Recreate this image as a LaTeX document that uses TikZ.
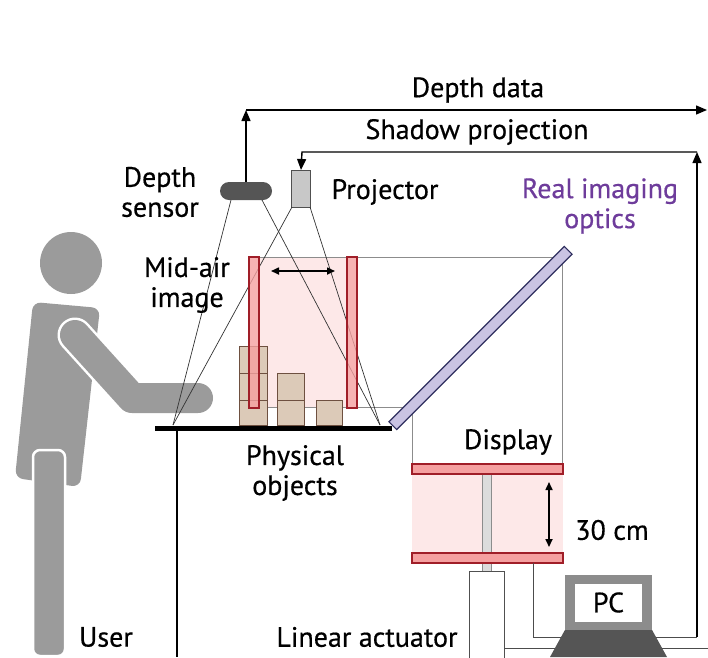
\documentclass[tikz,border=0pt]{standalone}
\usepackage{fontspec}
\setmainfont{PT Sans}[BoldFont={PT Sans}, BoldFeatures={FakeBold=0.5}]
\usetikzlibrary{arrows.meta}
\definecolor{persongray}{RGB}{155,155,155}
\definecolor{sensorgray}{RGB}{85,85,85}
\definecolor{projgray}{RGB}{200,200,200}
\definecolor{edgegray}{RGB}{80,80,80}
\definecolor{platefill}{RGB}{245,160,160}
\definecolor{plateedge}{RGB}{160,30,40}
\definecolor{volpink}{RGB}{253,232,232}
\definecolor{boxfill}{RGB}{220,202,184}
\definecolor{boxedge}{RGB}{110,80,64}
\definecolor{opticsfill}{RGB}{201,195,227}
\definecolor{opticsedge}{RGB}{46,46,94}
\definecolor{opticstext}{RGB}{110,60,155}
\definecolor{guidegray}{RGB}{140,140,140}
\definecolor{pcgray}{RGB}{140,140,140}
\definecolor{pcdark}{RGB}{85,85,85}
\definecolor{rodfill}{RGB}{220,220,220}
\begin{document}
\begin{tikzpicture}[x=1pt,y=-1pt,
  lbl/.style={font=\fontsize{28}{30}\selectfont\bfseries, align=center, inner sep=0pt},
  signal/.style={line width=1.4, draw=black, -{Triangle[length=11pt,width=9pt]}},
  ray/.style={line width=0.7, draw=black!80},
  guide/.style={line width=0.8, draw=guidegray},
  plate/.style={fill=platefill, fill opacity=0.8, draw=plateedge, line width=1.2},
  obj/.style={fill=boxfill, draw=boxedge, line width=1},
  span/.style={line width=1.6, {Triangle[length=8pt,width=7pt]}-{Triangle[length=8pt,width=7pt]}},
  thinwire/.style={line width=1, draw=black!70}]
\useasboundingbox (0,0) rectangle (708,657);

% ---------- user silhouette ----------
\fill[persongray] (71,263) circle (31);
\fill[persongray, rounded corners=8] (33,302) -- (100,308) -- (80,487) -- (15,478) -- cycle;
\draw[white, line width=35, line cap=round, line join=round] (75,335) -- (132,398) -- (198,398);
\draw[persongray, line width=30, line cap=round, line join=round] (75,335) -- (132,398) -- (198,398);
\filldraw[fill=persongray, draw=white, line width=2.5, rounded corners=7] (33,450) rectangle (65,656);

% ---------- mid-air image volume and its guide lines ----------
\fill[volpink] (259,257) rectangle (347,408);
\draw[guide] (259,257) -- (562,257) -- (562,464);
\draw[guide] (259,407) -- (412,407) -- (412,464);

% ---------- physical objects ----------
\draw[obj] (239,346) rectangle (267,373);
\draw[obj] (239,373) rectangle (267,400);
\draw[obj] (239,400) rectangle (267,425);
\draw[obj] (277,373) rectangle (304,400);
\draw[obj] (277,400) rectangle (304,425);
\draw[obj] (316,400) rectangle (342,425);

% ---------- table ----------
\draw[line width=5] (155,428) -- (392,428);
\draw[line width=2] (177,428) -- (177,657);

% ---------- sensor and projector ----------
\node[fill=sensorgray, rounded corners=9pt, minimum width=52pt, minimum height=18pt, inner sep=0pt] (sensor) at (246,191) {};
\node[fill=projgray, draw=edgegray, line width=1, minimum width=19pt, minimum height=37pt, inner sep=0pt] (proj) at (301,189) {};

% sensing and projection rays
\coordinate (tl) at (173,425);
\coordinate (tr) at (380,425);
\coordinate (s1) at (231,200);
\coordinate (s2) at (262,200);
\coordinate (p1) at (292,207);
\coordinate (p2) at (310,207);
\draw[ray] (s1) -- (tl);
\draw[ray] (s2) -- (tr);
\draw[ray] (p1) -- (tl);
\draw[ray] (p2) -- (tr);

% ---------- mid-air image planes ----------
\node[plate, minimum width=10pt, minimum height=151pt, inner sep=0pt] (planeL) at (254,332.5) {};
\node[plate, minimum width=10pt, minimum height=151pt, inner sep=0pt] (planeR) at (352,332.5) {};
\draw[span] (271,271) -- (335,271);

% ---------- real imaging optics ----------
\node[rotate=45, fill=opticsfill, draw=opticsedge, line width=1.2, minimum width=248pt, minimum height=11pt, inner sep=0pt] (optics) at (480.5,338) {};

% ---------- display unit ----------
\fill[volpink] (412,474) rectangle (563,553);
\node[fill=rodfill, draw=guidegray, line width=0.8, minimum width=9pt, minimum height=97pt, inner sep=0pt] (rod) at (486.5,522.5) {};
\node[plate, fill opacity=1, minimum width=151pt, minimum height=10pt, inner sep=0pt] (dispT) at (487.5,469) {};
\node[plate, fill opacity=1, minimum width=151pt, minimum height=10pt, inner sep=0pt] (dispB) at (487.5,558) {};
\draw[span] (549,482) -- (549,547);
\node[fill=white, draw=edgegray, line width=1, minimum width=35pt, minimum height=90pt, inner sep=0pt, anchor=north] (act) at (486.5,571) {};

% ---------- wiring ----------
\coordinate (ddc) at (246,110);
\coordinate (dde) at (707,110);
\draw[signal] (sensor.north) -- (ddc);
\draw[signal] (ddc) -- (dde);
\coordinate (spR) at (697,152);
\coordinate (spL) at (302,152);
\coordinate (dispW) at (533,563);
\coordinate (loop) at (697,637);
\draw[thinwire] (dispW) |- (loop);
\draw[signal, line width=1.2] (loop) -- (spR);
\draw[signal] (spR) -- (spL) -- (proj.north);
\coordinate (actW) at (504,648);
\coordinate (edgeW) at (708,648);
\draw[thinwire] (actW) -- (edgeW);

% ---------- PC ----------
\node[fill=pcgray, minimum width=87pt, minimum height=55pt, inner sep=0pt] (pc) at (608.5,602.5) {};
\node[fill=white, minimum width=67pt, minimum height=38pt, inner sep=0pt, lbl] (pcscreen) at (pc) {PC};
\fill[pcdark] (pc.south west) -- (pc.south east) -- (667,657) -- (550,657) -- cycle;

% ---------- labels ----------
\node[lbl] (tDepth) at (478,90) {Depth data};
\node[lbl] (tShadow) at (477,132) {Shadow projection};
\node[lbl] (tSensor) at (160,192) {Depth\\sensor};
\node[lbl] (tProj) at (385,192) {Projector};
\node[lbl, text=opticstext] (tOptics) at (600,206) {Real imaging\\optics};
\node[lbl] (tMid) at (187,285) {Mid-air\\image};
\node[lbl] (tDisp) at (508,442) {Display};
\node[lbl] (tPhys) at (295,473) {Physical\\objects};
\node[lbl] (t30) at (612,530) {30 cm};
\node[lbl] (tAct) at (367,637) {Linear actuator};
\node[lbl] (tUser) at (106,637) {User};
\end{tikzpicture}
\end{document}
